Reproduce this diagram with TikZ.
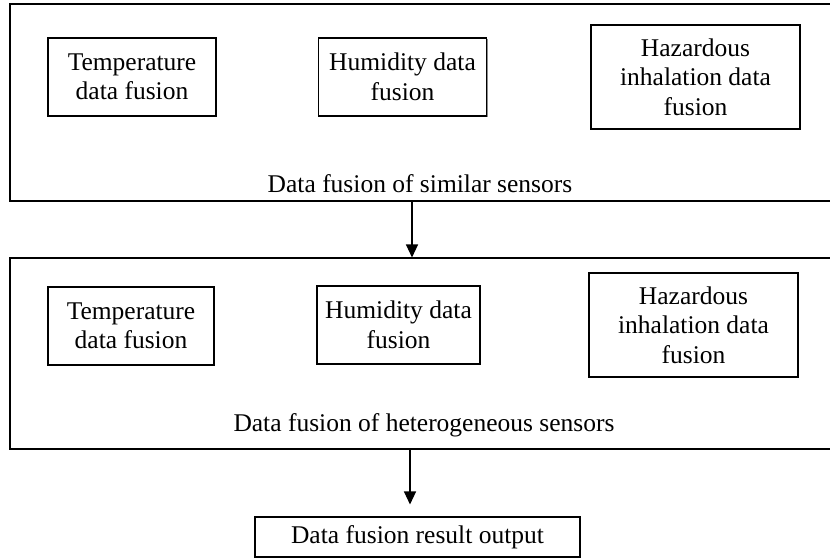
\documentclass[tikz,border=0pt]{standalone}
\usepackage{fontspec}
\setmainfont{Liberation Serif}
\usetikzlibrary{arrows.meta,shadows}

\tikzset{
  framebox/.style={draw=black, line width=1.1pt, fill=white, inner sep=0pt,
    drop shadow={shadow xshift=1.3pt, shadow yshift=-1.3pt, fill=black!45, opacity=1}},
  unitbox/.style={framebox, align=center,
    font=\fontsize{25.5}{29.5}\selectfont},
  caption/.style={inner sep=0pt, font=\fontsize{25.5}{29.5}\selectfont},
  flow/.style={draw=black, line width=1.3pt, -{Triangle[length=13pt,width=12pt]}}
}

\begin{document}
\begin{tikzpicture}[x=1pt,y=-1pt]
  \useasboundingbox (0,0) rectangle (830,558);
  \begin{scope}
    \clip (0,0) rectangle (830,558);

    % stage 1: fusion of sensors of the same kind
    \node[framebox, minimum width=830pt, minimum height=197pt] (O1) at (425,102.5) {};
    \node[unitbox, minimum width=168pt, minimum height=78pt] (T1) at (132,77)
      {Temperature\\data fusion};
    \node[unitbox, minimum width=168pt, minimum height=78pt] (H1) at (402.5,77)
      {Humidity data\\fusion};
    \node[unitbox, minimum width=209pt, minimum height=104pt] (Z1) at (695.5,77)
      {Hazardous\\inhalation data\\fusion};
    \node[caption] (L1) at (420,184) {Data fusion of similar sensors};

    % stage 2: fusion across different sensor kinds
    \node[framebox, minimum width=830pt, minimum height=191pt] (O2) at (425,353.5) {};
    \node[unitbox, minimum width=166pt, minimum height=78pt] (T2) at (131,326)
      {Temperature\\data fusion};
    \node[unitbox, minimum width=163pt, minimum height=78pt] (H2) at (398.5,325)
      {Humidity data\\fusion};
    \node[unitbox, minimum width=209pt, minimum height=104pt] (Z2) at (693.5,325)
      {Hazardous\\inhalation data\\fusion};
    \node[caption] (L2) at (424,425) {Data fusion of heterogeneous sensors};

    % final result
    \node[unitbox, minimum width=325pt, minimum height=40pt] (R) at (417.5,537)
      {Data fusion result output};

    % connectors
    \coordinate (a1) at (412,0);
    \coordinate (a2) at (410,0);
    \draw[flow] (a1 |- O1.south) -- (a1 |- O2.north);
    \draw[flow, shorten >=12pt] (a2 |- O2.south) -- (a2 |- R.north);
  \end{scope}
\end{tikzpicture}
\end{document}
